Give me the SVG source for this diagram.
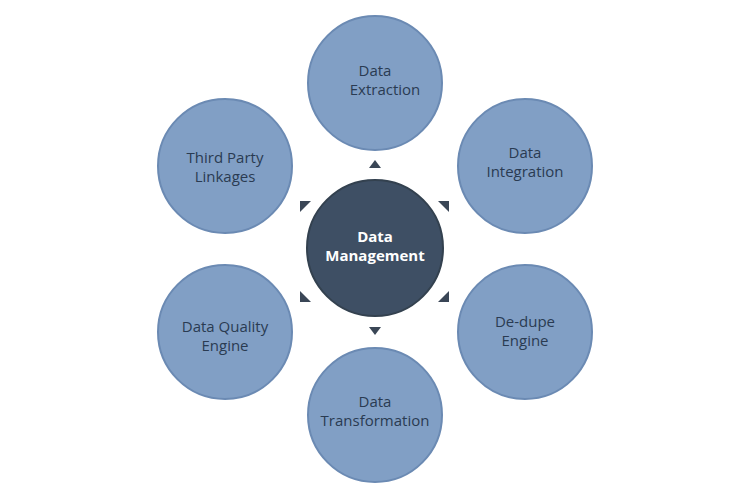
<svg xmlns="http://www.w3.org/2000/svg" width="750" height="500" viewBox="0 0 750 500">
<style>
.o{fill:#819fc5;stroke:#6b8ab3;stroke-width:2}
.t{font-family:"Open Sans","DejaVu Sans",sans-serif;font-size:15px;fill:#2a3b52;text-anchor:middle}
.c{font-family:"Open Sans","DejaVu Sans",sans-serif;font-size:15px;font-weight:bold;fill:#ffffff;text-anchor:middle}
.a{fill:#3a4656}
</style>
<rect width="750" height="500" fill="#fff"/>
<g id="connectors">
<polygon class="a" points="375,160 369,168 381,168"/>
<polygon class="a" points="449,201 449,212 438,201"/>
<polygon class="a" points="449,302 449,291 438,302"/>
<polygon class="a" points="375,335 369,327 381,327"/>
<polygon class="a" points="300,302 300,291 311,302"/>
<polygon class="a" points="300,201 300,212 311,201"/>
</g>
<g id="center"><circle cx="375" cy="248" r="68" fill="#3e4f64" stroke="#33414f" stroke-width="2"/><text class="c" x="375" y="242">Data</text><text class="c" x="375" y="261">Management</text></g>
<g id="extraction"><circle class="o" cx="375" cy="83" r="67"/><text class="t" x="375" y="76">Data</text><text class="t" x="385" y="95">Extraction</text></g>
<g id="integration"><circle class="o" cx="525" cy="166" r="67"/><text class="t" x="525" y="158">Data</text><text class="t" x="525" y="177">Integration</text></g>
<g id="dedupe"><circle class="o" cx="525" cy="332" r="67"/><text class="t" x="525" y="327">De-dupe</text><text class="t" x="525" y="346">Engine</text></g>
<g id="transformation"><circle class="o" cx="375" cy="415" r="67"/><text class="t" x="375" y="407">Data</text><text class="t" x="375" y="426">Transformation</text></g>
<g id="quality"><circle class="o" cx="225" cy="332" r="67"/><text class="t" x="225" y="332">Data Quality</text><text class="t" x="225" y="351">Engine</text></g>
<g id="thirdparty"><circle class="o" cx="225" cy="166" r="67"/><text class="t" x="225" y="163">Third Party</text><text class="t" x="225" y="182">Linkages</text></g>
</svg>
